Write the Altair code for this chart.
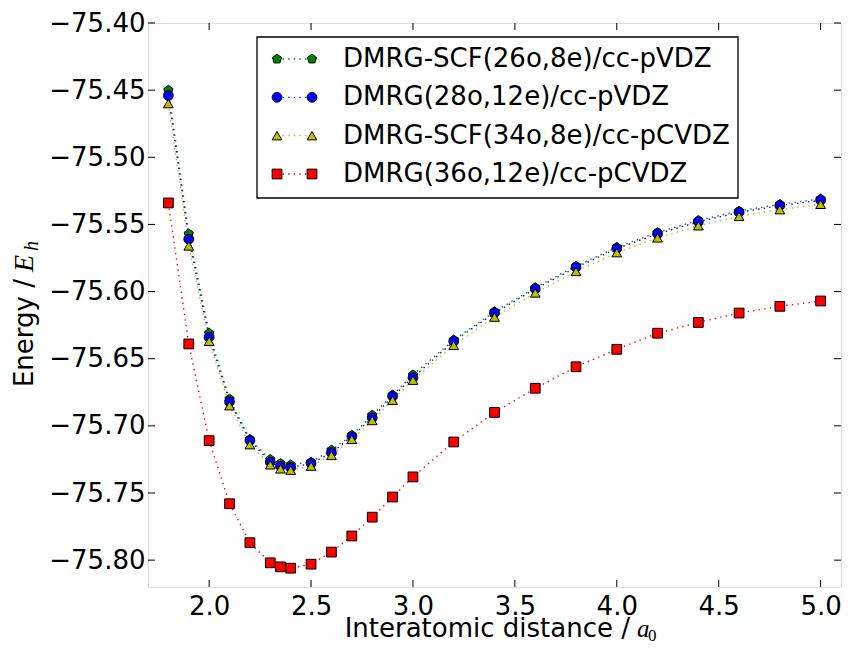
import altair as alt
import pandas as pd

# ---------------- data ----------------
x_vals = [1.8, 1.9, 2.0, 2.1, 2.2, 2.3, 2.35, 2.4, 2.5, 2.6, 2.7, 2.8,
          2.9, 3.0, 3.2, 3.4, 3.6, 3.8, 4.0, 4.2, 4.4, 4.6, 4.8, 5.0]

e_scf_vdz = [-75.450, -75.557, -75.631, -75.680, -75.710, -75.725, -75.728, -75.729,
             -75.727, -75.718, -75.707, -75.692, -75.677, -75.662, -75.636, -75.615,
             -75.597, -75.581, -75.567, -75.556, -75.547, -75.540, -75.535, -75.531]
e_dmrg_vdz = [-75.454, -75.561, -75.634, -75.682, -75.711, -75.727, -75.730, -75.731,
              -75.728, -75.720, -75.708, -75.694, -75.678, -75.664, -75.637, -75.616,
              -75.598, -75.582, -75.568, -75.557, -75.548, -75.541, -75.536, -75.532]
e_scf_cvdz = [-75.460, -75.566, -75.637, -75.685, -75.714, -75.729, -75.732, -75.733,
              -75.730, -75.722, -75.710, -75.696, -75.681, -75.666, -75.640, -75.619,
              -75.601, -75.585, -75.571, -75.560, -75.551, -75.544, -75.539, -75.535]
e_dmrg_cvdz = [-75.534, -75.639, -75.711, -75.758, -75.787, -75.802, -75.805, -75.806,
               -75.803, -75.794, -75.782, -75.768, -75.753, -75.738, -75.712, -75.690,
               -75.672, -75.656, -75.643, -75.631, -75.623, -75.616, -75.611, -75.607]

series_names = ["DMRG-SCF(26o,8e)/cc-pVDZ", "DMRG(28o,12e)/cc-pVDZ",
                "DMRG-SCF(34o,8e)/cc-pCVDZ", "DMRG(36o,12e)/cc-pCVDZ"]
series_values = [e_scf_vdz, e_dmrg_vdz, e_scf_cvdz, e_dmrg_cvdz]
series_colors = ["#008000", "#0000ff", "#bfbf00", "#ff0000"]
PENTAGON = "M0,-1L0.951,-0.309L0.588,0.809L-0.588,0.809L-0.951,-0.309Z"
series_shapes = [PENTAGON, "circle", "triangle-up", "square"]

x_ticks = [2.0, 2.5, 3.0, 3.5, 4.0, 4.5, 5.0]
y_ticks = [-75.80, -75.75, -75.70, -75.65, -75.60, -75.55, -75.50, -75.45, -75.40]

# ---------------- layout ----------------
W, H = 693, 564
FONT = "DejaVu Sans"
MATH = "Liberation Serif"
FS = 26
TICK = 7

rows = []
for name, vals in zip(series_names, series_values):
    for xv, ev in zip(x_vals, vals):
        rows.append({"series": name, "x": xv, "energy": ev})
df = pd.DataFrame(rows)

xscale = alt.Scale(domain=[1.7, 5.1], nice=False, zero=False)
yscale = alt.Scale(domain=[-75.82, -75.40], nice=False, zero=False)
xaxis = alt.Axis(values=x_ticks, format=".1f", ticks=False, tickSize=0, domain=False,
                 grid=False, labelFont=FONT, labelFontSize=FS, labelColor="black",
                 labelPadding=6, title=None, labelFlush=False)
yaxis = alt.Axis(values=y_ticks, format=".2f", ticks=False, tickSize=0, domain=False,
                 grid=False, labelFont=FONT, labelFontSize=FS, labelColor="black",
                 labelPadding=3, title=None)

color_scale = alt.Scale(domain=series_names, range=series_colors)
shape_scale = alt.Scale(domain=series_names, range=series_shapes)

lines = alt.Chart(df).mark_line(strokeDash=[1.4, 4.2], strokeWidth=1.4).encode(
    x=alt.X("x:Q", scale=xscale, axis=xaxis),
    y=alt.Y("energy:Q", scale=yscale, axis=yaxis),
    stroke=alt.Stroke("series:N", scale=color_scale, legend=None),
    detail="series:N",
)

points = alt.Chart(df).mark_point(filled=True, stroke="black", strokeWidth=1, opacity=1,
                                  strokeOpacity=1, fillOpacity=1, size=95).encode(
    x=alt.X("x:Q", scale=xscale, axis=xaxis),
    y=alt.Y("energy:Q", scale=yscale, axis=yaxis),
    fill=alt.Fill("series:N", scale=color_scale, legend=None),
    shape=alt.Shape("series:N", scale=shape_scale, legend=None),
)

xt_df = pd.DataFrame({"xt": x_ticks})
yt_df = pd.DataFrame({"yt": y_ticks})
tick_x_bottom = alt.Chart(xt_df).mark_rule(color="black", strokeWidth=1).encode(
    x=alt.X("xt:Q", scale=xscale, axis=xaxis), y=alt.value(H), y2=alt.value(H - TICK))
tick_x_top = alt.Chart(xt_df).mark_rule(color="black", strokeWidth=1).encode(
    x=alt.X("xt:Q", scale=xscale, axis=xaxis), y=alt.value(0), y2=alt.value(TICK))
tick_y_left = alt.Chart(yt_df).mark_rule(color="black", strokeWidth=1).encode(
    y=alt.Y("yt:Q", scale=yscale, axis=yaxis), x=alt.value(0), x2=alt.value(TICK))
tick_y_right = alt.Chart(yt_df).mark_rule(color="black", strokeWidth=1).encode(
    y=alt.Y("yt:Q", scale=yscale, axis=yaxis), x=alt.value(W), x2=alt.value(W - TICK))

one = pd.DataFrame({"a": [0]})


def label(text, x, y, font=FONT, size=FS, style="normal", angle=0, align="left"):
    return alt.Chart(one).mark_text(text=text, font=font, fontSize=size, fontStyle=style,
                                    angle=angle, align=align, baseline="alphabetic",
                                    color="black").encode(x=alt.value(x), y=alt.value(y))


# axis titles (with math-style italic symbols)
xt1 = label("Interatomic distance /", 482, 614, align="right")
xt2 = label("a", 489, 614, font=MATH, style="italic", size=25)
xt3 = label("0", 500, 618, font=MATH, size=17)
yt1 = label("Energy /", -115, 256, angle=270, align="right")
yt2 = label("E", -115, 249, font=MATH, style="italic", size=28, angle=270)
yt3 = label("h", -110, 228, font=MATH, style="italic", size=20, angle=270)

main = alt.layer(lines, points, tick_x_bottom, tick_x_top, tick_y_left, tick_y_right,
                 xt1, xt2, xt3, yt1, yt2, yt3)

# ---------------- legend ----------------
leg_df = pd.DataFrame({"series": series_names, "row": list(range(len(series_names)))})
leg_y = alt.Y("row:Q", scale=alt.Scale(domain=[0, 3], range=[36, 151], nice=False,
                                       zero=False), axis=None)

leg_box = alt.Chart(one).mark_rect(fill="white", stroke="black", strokeWidth=1.3).encode(
    x=alt.value(109), x2=alt.value(590), y=alt.value(14), y2=alt.value(175))
leg_line = alt.Chart(leg_df).mark_rule(strokeDash=[1.4, 4.2], strokeWidth=1.4).encode(
    x=alt.value(129), x2=alt.value(164), y=leg_y,
    stroke=alt.Stroke("series:N", scale=color_scale, legend=None))
leg_pts_l = alt.Chart(leg_df).mark_point(filled=True, stroke="black", strokeWidth=1,
                                         opacity=1, size=95).encode(
    x=alt.value(129), y=leg_y,
    fill=alt.Fill("series:N", scale=color_scale, legend=None),
    shape=alt.Shape("series:N", scale=shape_scale, legend=None))
leg_pts_r = leg_pts_l.encode(x=alt.value(164))
leg_text = alt.Chart(leg_df).mark_text(align="left", baseline="middle", font=FONT,
                                       fontSize=FS, color="black").encode(
    x=alt.value(195), y=leg_y, text="series:N")

legend = alt.layer(leg_box, leg_line, leg_pts_l, leg_pts_r, leg_text)

chart = alt.layer(main, legend).resolve_scale(y="independent").properties(
    width=W, height=H,
    autosize=alt.AutoSizeParams(type="none"),
    padding={"left": 140, "top": 15, "right": 1, "bottom": 58},
).configure_view(stroke="black", strokeWidth=1.3).configure(background="white")

chart.save("out.html", embed_options={"renderer": "svg", "actions": False})
